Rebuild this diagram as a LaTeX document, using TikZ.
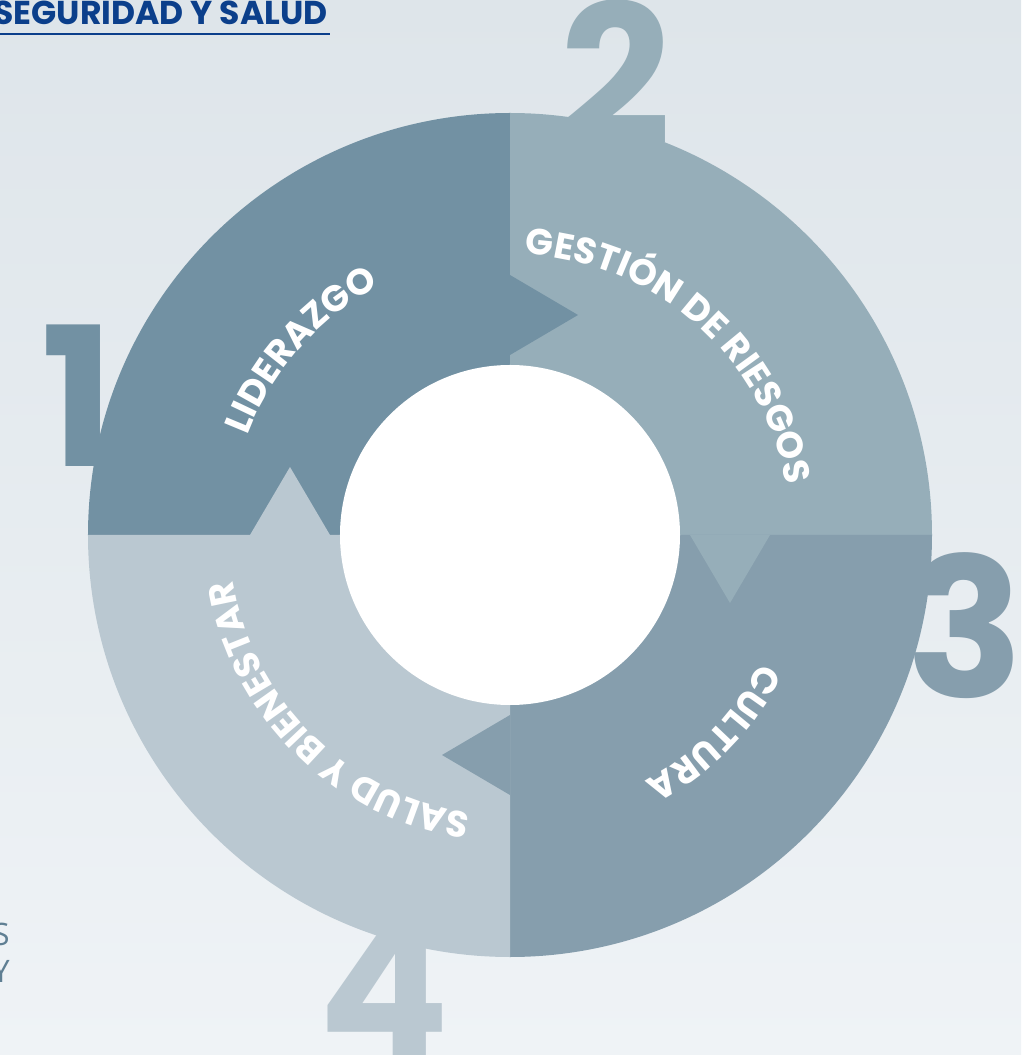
\documentclass[tikz,border=0pt]{standalone}
\usepackage{fontspec}
\setmainfont{Poppins}
\newfontfamily\bodyfont{Open Sans}
\usepackage{tikz}
\usetikzlibrary{decorations.text, positioning}
\definecolor{liderazgo}{HTML}{7291A3}
\definecolor{gestion}{HTML}{96AEB9}
\definecolor{cultura}{HTML}{869EAD}
\definecolor{salud}{HTML}{BAC8D1}
\definecolor{bgtop}{HTML}{DEE5EA}
\definecolor{bgbot}{HTML}{EFF3F6}
\definecolor{titleblue}{HTML}{0B3F8B}
\definecolor{bodygray}{HTML}{5F7F93}
\tikzset{>=latex}

\begin{document}
\begin{tikzpicture}[x=0.25mm,y=0.25mm,
    bignum/.style={font=\fontsize{138}{138}\selectfont\bfseries,inner sep=0pt,anchor=base},
    ringlabel/.style={decorate,decoration={text along path,text align=center,
        text={|\fontsize{26}{26}\selectfont\bfseries\color{white}|#1}}},
    arrowtip/.style={fill=#1}]
    \useasboundingbox[top color=bgtop,bottom color=bgbot] (-510,-520) rectangle (511,535);
    % numbers behind the ring
    \node[bignum,text=liderazgo] (one) at (-432,68) {1};
    \node[bignum,text=gestion] (two) at (106,390) {2};
    \node[bignum,text=cultura] (three) at (455,-162) {3};
    \node[bignum,text=salud] (four) at (-126,-522) {4};
    % ring quarters
    \fill[liderazgo] (0,0) -- (180:422) arc[start angle=180,end angle=90,radius=422] -- cycle;
    \fill[gestion] (0,0) -- (90:422) arc[start angle=90,end angle=0,radius=422] -- cycle;
    \fill[cultura] (0,0) -- (0:422) arc[start angle=0,end angle=-90,radius=422] -- cycle;
    \fill[salud] (0,0) -- (-90:422) arc[start angle=-90,end angle=-180,radius=422] -- cycle;
    \foreach \a/\c in {90/liderazgo,0/gestion,-90/cultura,180/salud}
        \fill[arrowtip=\c,rotate=\a] (180,0) -- (260,0) -- (220,-68) -- cycle;
    \node[circle,fill=white,minimum size=85mm,inner sep=0pt] (hub) at (0,0) {};
    % labels on the ring
    \path[ringlabel=LIDERAZGO] (198.5:281) arc[start angle=198.5,end angle=78.5,radius=281];
    \path[ringlabel=GESTIÓN DE RIESGOS] (108.6:281) arc[start angle=108.6,end angle=-11.4,radius=281];
    \path[ringlabel=CULTURA] (15.9:281) arc[start angle=15.9,end angle=-104.1,radius=281];
    \path[ringlabel=SALUD Y BIENESTAR] (285.6:281) arc[start angle=285.6,end angle=165.6,radius=281];
    % header and cut text
    \node[anchor=base east,inner sep=0pt,text=titleblue,font=\fontsize{23.5}{23.5}\selectfont\bfseries] (title) at (-182,510) {SEGURIDAD Y SALUD};
    \draw[titleblue,line width=0.4mm] ([shift={(2,-9)}]title.base east) -- ++(-340,0);
    \node[anchor=base east,inner sep=0pt,text=bodygray,font=\bodyfont\fontsize{22}{22}\selectfont] (lineS) at (-500,-410) {S};
    \node[anchor=base east,inner sep=0pt,text=bodygray,font=\bodyfont\fontsize{22}{22}\selectfont] (lineY) at (-500,-447) {Y};
\end{tikzpicture}
\end{document}
